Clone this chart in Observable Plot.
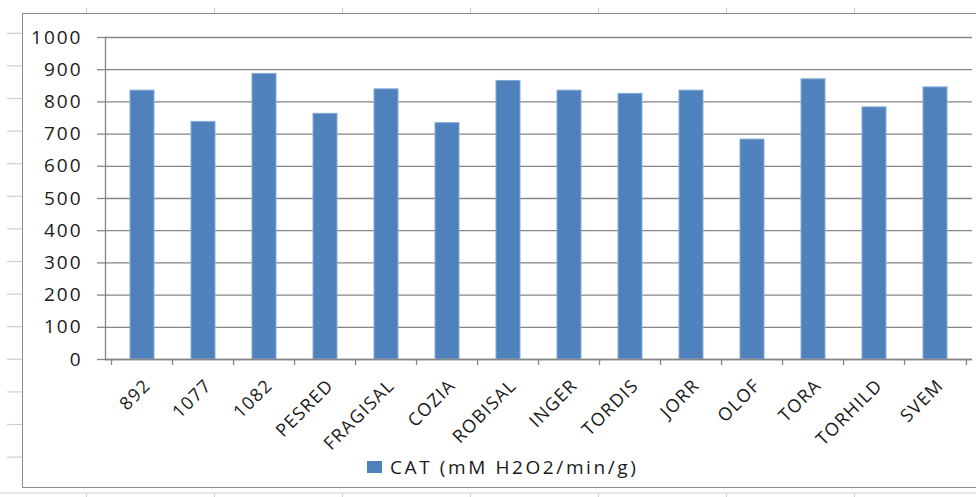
<!DOCTYPE html>
<html><head><meta charset="utf-8">
<script src="https://cdn.jsdelivr.net/npm/d3@7"></script>
<script src="https://cdn.jsdelivr.net/npm/@observablehq/plot@0.6"></script>
<style>
body{margin:0;background:#fff;}
#wrap{position:relative;width:976px;height:497px;overflow:hidden;font-family:"Open Sans",sans-serif;background:#fff;}
#bg{position:absolute;left:0;top:0;}
#box{position:absolute;left:22px;top:13px;width:958px;height:475px;border:1.5px solid #8c8c8c;box-sizing:border-box;background:#fff;}
#chart{position:absolute;left:0;top:0;}
#legend{position:absolute;left:367px;top:454px;display:flex;align-items:center;font-size:19px;color:#1a1a1a;letter-spacing:2.6px;}
#legend .sw{width:15px;height:12px;background:#4F81BD;margin-right:8px;}
#chart g[aria-label="y-axis tick label"] text{letter-spacing:2px;}
#chart g[aria-label="x-axis tick label"] text{letter-spacing:1.3px;}
</style></head>
<body>
<div id="wrap">
  <svg id="bg" width="976" height="497"></svg>
  <div id="box"></div>
  <div id="chart"></div>
  <div id="legend"><span class="sw"></span><span>CAT (mM H2O2/min/g)</span></div>
</div>
<script>
const categories = ["892","1077","1082","PESRED","FRAGISAL","COZIA","ROBISAL","INGER","TORDIS","JORR","OLOF","TORA","TORHILD","SVEM"];
const catValues = [835,738,887,763,839,734,865,835,825,835,683,870,783,845];
const yTicks = [0,100,200,300,400,500,600,700,800,900,1000];
const seriesName = "CAT (mM H2O2/min/g)";

const data = categories.map((c, i) => ({cat: c, value: catValues[i]}));

// spreadsheet background (decoration)
const bg = d3.select("#bg");
for (let k = 0; k < 14; k++) {
  const y = 33.3 + 32.6 * k;
  bg.append("line").attr("x1", 7).attr("x2", 22).attr("y1", y).attr("y2", y).attr("stroke", "#cfcfcf").attr("stroke-width", 1.2);
}
bg.append("line").attr("x1", 0).attr("x2", 976).attr("y1", 493).attr("y2", 493).attr("stroke", "#cfcfcf").attr("stroke-width", 1.2);
for (let k = 0; k < 8; k++) {
  const x = 86.5 + 128 * k;
  bg.append("line").attr("x1", x).attr("x2", x).attr("y1", 8).attr("y2", 13).attr("stroke", "#cfcfcf");
  bg.append("line").attr("x1", x).attr("x2", x).attr("y1", 493).attr("y2", 497).attr("stroke", "#cfcfcf");
}

const W = 976, H = 440, ML = 105, MR = 4, MT = 37, MB = 81;
const step = (W - ML - MR) / categories.length;
const axisColor = "#868686";

const chart = Plot.plot({
  width: W,
  height: H,
  marginLeft: ML,
  marginRight: MR,
  marginTop: MT,
  marginBottom: MB,
  style: {background: "transparent", fontFamily: "'Open Sans', sans-serif", overflow: "visible"},
  x: {domain: categories, paddingInner: 0.6, paddingOuter: 0.3, label: null},
  y: {domain: [0, 1000], label: null},
  marks: [
    Plot.gridY(yTicks, {stroke: axisColor, strokeOpacity: 1, strokeWidth: 1.3}),
    Plot.barY(data, {x: "cat", y: "value", fill: "#4F81BD", stroke: "#86ABD8", strokeWidth: 1}),
    Plot.ruleY([0], {stroke: axisColor, strokeWidth: 1.3}),
    Plot.frame({anchor: "left", stroke: axisColor, strokeWidth: 1.3}),
    Plot.ruleX(categories, {x: d => d, dx: -step / 2, y1: 0, y2: 0, insetBottom: -6, stroke: axisColor, strokeWidth: 1.3}),
    Plot.ruleX(categories.slice(-1), {x: d => d, dx: step / 2, y1: 0, y2: 0, insetBottom: -6, stroke: axisColor, strokeWidth: 1.3}),
    Plot.axisY({ticks: yTicks, tickFormat: d => String(d), tickSize: 8, tickPadding: 15, stroke: axisColor, strokeWidth: 1.3, fill: "#1a1a1a", fontSize: 19}),
    Plot.axisX({tickSize: 0, tickRotate: -45, tickPadding: 23, dx: 5, fill: "#1a1a1a", fontSize: 18})
  ]
});
document.getElementById("chart").appendChild(chart);
</script>
</body></html>
